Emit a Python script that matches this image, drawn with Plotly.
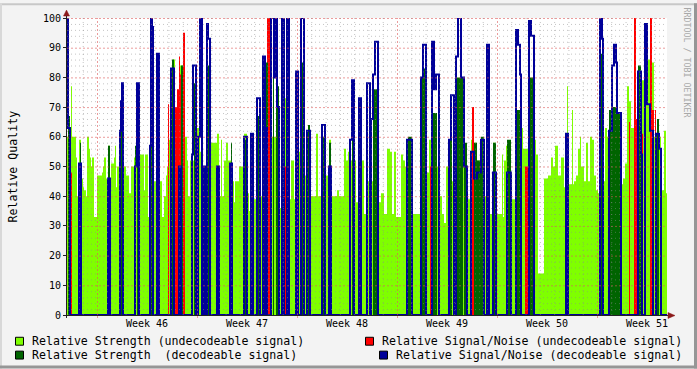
import plotly.graph_objects as go

# ---------------- data ----------------
N_SAMPLES = 600            # one sample = 0.07 day (~1h41m), 6 weeks shown
DAYS_PER_SAMPLE = 0.07

WEEK_LABELS = ["Week 46", "Week 47", "Week 48", "Week 49", "Week 50", "Week 51"]
WEEK_STARTS = [2.1, 9.1, 16.1, 23.1, 30.1, 37.1]   # day offsets of week boundaries

# Relative Strength (undecodeable) : contiguous runs (end_sample, value)
STRENGTH_UNDEC = [
    (4, 60), (5, 77), (9, 60), (10, 53), (12, 40), (14, 59), (16, 46), (17, 43), (19, 42), (20, 40),
    (22, 60), (23, 56), (24, 53), (25, 50), (27, 53), (30, 33), (35, 47), (36, 48), (37, 50), (39, 53),
    (41, 46), (43, 57), (44, 39), (47, 51), (48, 53), (49, 57), (50, 43), (59, 50), (62, 47), (64, 41),
    (67, 50), (72, 53), (77, 54), (78, 42), (81, 54), (83, 33), (87, 51), (90, 45), (93, 50), (95, 45),
    (97, 33), (99, 40), (100, 47),
    (101, 50), (104, 59), (106, 60), (108, 86), (112, 62), (116, 84), (118, 62), (120, 60), (121, 52),
    (123, 40), (125, 52), (126, 40), (130, 52), (133, 63), (135, 55), (139, 50), (141, 40), (144, 50),
    (150, 58), (152, 61), (154, 40), (155, 59), (157, 40), (159, 52), (161, 58), (164, 52), (167, 45),
    (168, 38), (172, 45), (177, 50), (180, 61), (182, 41), (184, 35), (186, 50), (190, 39), (194, 50),
    (197, 40), (199, 59),
    (212, 60), (215, 36), (217, 45), (220, 73), (222, 34), (224, 39), (227, 52), (229, 39), (230, 55),
    (234, 55), (237, 60), (239, 47), (240, 42), (249, 40), (251, 61), (255, 40), (259, 50), (262, 47),
    (264, 59), (270, 40), (272, 42), (277, 40), (279, 56), (281, 52), (283, 55), (289, 52), (294, 38),
    (297, 52), (299, 34),
    (300, 37), (303, 45), (305, 40), (311, 45), (314, 38), (317, 41), (320, 34), (323, 56), (325, 55),
    (327, 34), (329, 55), (334, 33), (336, 54), (338, 52), (340, 50), (345, 40), (354, 34), (360, 45),
    (362, 48), (364, 59), (365, 48), (372, 50), (375, 40), (377, 34), (379, 31), (382, 50), (389, 45),
    (397, 50), (399, 52),
    (400, 52), (404, 39), (407, 59), (410, 58), (414, 52), (417, 35), (422, 40), (426, 34), (429, 58),
    (435, 34), (436, 54), (437, 33), (439, 52), (440, 57), (444, 45), (449, 39), (454, 60), (456, 63),
    (462, 56), (467, 60), (469, 59), (471, 54), (477, 14), (481, 46), (484, 47), (486, 53), (488, 50),
    (491, 57), (494, 47), (497, 53), (499, 43),
    (500, 46), (501, 77), (505, 44), (506, 69), (507, 44), (509, 45), (511, 47), (513, 56), (514, 60),
    (517, 50), (519, 45), (521, 58), (523, 45), (525, 60), (527, 59), (529, 47), (531, 42), (533, 41),
    (536, 45), (538, 45), (540, 63), (542, 60), (554, 55), (556, 44), (558, 46), (560, 51), (562, 77),
    (564, 72), (569, 63), (572, 50), (575, 64), (580, 79), (584, 86), (587, 85), (594, 60), (597, 42),
    (599, 62), (600, 41),
]

# Relative Signal/Noise (undecodeable) : runs (start, end, value), zero elsewhere
SN_UNDEC = [
    (4, 5, 48), (101, 102, 71), (107, 110, 70), (110, 112, 76), (112, 113, 87), (113, 114, 81),
    (116, 118, 95), (134, 136, 67), (197, 199, 48), (200, 204, 100), (218, 220, 50), (363, 364, 50),
    (405, 407, 70), (458, 461, 50), (562, 563, 65), (567, 569, 100), (569, 570, 66), (575, 576, 61),
    (583, 585, 100), (585, 587, 69), (588, 589, 69),
]

# Relative Strength (decodeable) : runs (start, end, value)
STRENGTH_DEC = [
    (1, 3, 67), (13, 14, 58), (41, 43, 57), (54, 56, 71), (68, 69, 57), (70, 72, 65), (84, 87, 66),
    (90, 92, 71), (105, 107, 86), (114, 116, 84), (127, 129, 78), (134, 136, 61), (141, 143, 84),
    (164, 165, 58), (177, 180, 59), (191, 193, 67), (199, 201, 85), (206, 207, 85), (209, 212, 77),
    (230, 231, 71), (234, 237, 85), (241, 243, 64), (255, 258, 60), (262, 264, 58), (285, 287, 60),
    (306, 310, 76), (310, 311, 60), (341, 345, 60), (355, 360, 83), (366, 370, 68), (383, 385, 64),
    (390, 396, 80), (397, 400, 58), (407, 410, 58), (410, 414, 52), (414, 417, 60), (426, 429, 58),
    (440, 444, 59), (450, 454, 69), (462, 467, 80), (533, 536, 88), (542, 545, 69), (545, 550, 70),
    (550, 554, 68), (571, 574, 84), (590, 592, 66),
]

# Relative Signal/Noise (decodeable) : runs (start, end, value)
SN_DEC = [
    (0, 1, 100), (1, 3, 63), (12, 14, 51), (41, 43, 46), (53, 54, 62), (54, 55, 72), (55, 56, 78),
    (68, 70, 50), (70, 72, 78), (83, 84, 57), (84, 85, 100), (85, 86, 97), (90, 92, 88),
    (104, 107, 83), (112, 114, 50), (125, 126, 54), (126, 129, 84), (131, 133, 60), (133, 135, 100),
    (136, 138, 50), (140, 141, 98), (141, 143, 93), (150, 152, 50), (163, 165, 51), (177, 180, 60),
    (184, 186, 61), (190, 193, 73), (196, 198, 87), (199, 200, 63),
    (204, 207, 100), (207, 208, 80), (208, 210, 100), (210, 212, 70), (215, 217, 100), (220, 222, 100),
    (229, 231, 82), (234, 237, 100), (240, 243, 62), (255, 258, 64), (262, 264, 50), (283, 285, 59),
    (285, 287, 79), (292, 294, 73),
    (300, 303, 78), (304, 306, 66), (306, 308, 81), (308, 311, 92), (340, 345, 59), (354, 356, 80),
    (356, 359, 91), (365, 367, 92), (367, 369, 76), (369, 372, 81), (382, 384, 59), (384, 387, 74),
    (389, 391, 87), (391, 394, 100), (394, 397, 80), (397, 400, 50),
    (404, 407, 55), (407, 410, 46), (410, 414, 48), (414, 417, 59), (420, 422, 91), (426, 429, 48),
    (440, 444, 48), (449, 451, 96), (451, 453, 91), (453, 454, 81), (462, 464, 99), (464, 467, 94),
    (499, 501, 61), (533, 535, 100), (535, 536, 93), (542, 545, 62), (545, 547, 84), (547, 549, 91),
    (549, 550, 85), (550, 554, 68), (571, 574, 82), (574, 575, 54), (578, 580, 98), (580, 583, 71),
    (583, 586, 62), (589, 592, 61), (592, 594, 56),
]

LEGEND_NAMES = [
    "Relative Strength (undecodeable signal)",
    "Relative Strength\u00a0 (decodeable signal)",
    "Relative Signal/Noise (undecodeable signal)",
    "Relative Signal/Noise (decodeable signal)",
]

# ---------------- helpers ----------------
def expand_contiguous(runs):
    arr, start = [0.0] * N_SAMPLES, 0
    for end, v in runs:
        for i in range(start, min(end, N_SAMPLES)):
            arr[i] = v
        start = end
    return arr

def expand_runs(runs):
    arr = [0.0] * N_SAMPLES
    for s, e, v in runs:
        for i in range(s, min(e, N_SAMPLES)):
            arr[i] = v
    return arr

x = [i * DAYS_PER_SAMPLE for i in range(N_SAMPLES + 1)]

def step(arr):
    return arr + [arr[-1]]

LG, RED, DG, BLUE = "#7FFF00", "#FF0000", "#006400", "#000099"

W, H = 697, 369
L, R, T, B = 67, 667, 15, 315
X_HALF_PX = 0.5 * 42 / (R - L)      # half a pixel in day units (crisp 1px lines)
Y_HALF_PX = 0.5 * 100 / (B - T)     # half a pixel in value units

fig = go.Figure()
for arr, col in [(expand_contiguous(STRENGTH_UNDEC), LG),
                 (expand_runs(SN_UNDEC), RED),
                 (expand_runs(STRENGTH_DEC), DG)]:
    fig.add_trace(go.Scatter(x=x, y=step(arr), mode="lines", line=dict(width=0, shape="hv"),
                             fill="tozeroy", fillcolor=col, hoverinfo="skip", showlegend=False))
fig.add_trace(go.Scatter(x=x, y=step(expand_runs(SN_DEC)), mode="lines",
                         line=dict(width=2, shape="hv", color=BLUE),
                         hoverinfo="skip", showlegend=False))

# ---------------- layout ----------------
def px(v):
    return (v - L) / (R - L)

def py(v):
    return (B - v) / (B - T)

MONO = "DejaVu Sans Mono"
MINOR = "rgba(140,140,140,0.5)"
MAJOR = "rgba(222,90,90,0.6)"
shapes = []
# grid drawn above data (rrdtool style)
for yv in range(2, 101, 2):
    major = yv % 10 == 0
    shapes.append(dict(type="line", xref="x", yref="y", x0=0, x1=42,
                       y0=yv - Y_HALF_PX, y1=yv - Y_HALF_PX, layer="above",
                       line=dict(color=MAJOR if major else MINOR, width=1,
                                 dash="2px,2px" if major else "1px,3px")))
for d in range(42):
    xv = 0.1 + d
    major = any(abs(xv - w) < 1e-6 for w in WEEK_STARTS)
    shapes.append(dict(type="line", xref="x", yref="y", x0=xv + X_HALF_PX, x1=xv + X_HALF_PX,
                       y0=0, y1=100, layer="above",
                       line=dict(color=MAJOR if major else MINOR, width=1,
                                 dash="2px,2px" if major else "1px,3px")))
    if major:
        shapes.append(dict(type="line", xref="x", yref="paper", x0=xv + X_HALF_PX, x1=xv + X_HALF_PX,
                           y0=py(315), y1=py(318), line=dict(color=MAJOR, width=1)))
# axes
AX = "#202020"
shapes.append(dict(type="line", xref="paper", yref="paper", x0=px(63), x1=px(669), y0=py(315.5), y1=py(315.5),
                   line=dict(color=AX, width=1), layer="above"))
shapes.append(dict(type="line", xref="paper", yref="paper", x0=px(66.5), x1=px(66.5), y0=py(318), y1=py(11),
                   line=dict(color=AX, width=1), layer="above"))
ARROW = "#8b1a1a"
shapes.append(dict(type="path", xref="paper", yref="paper",
                   path=f"M {px(668)},{py(312.5)} L {px(675)},{py(315.5)} L {px(668)},{py(318.5)} Z",
                   fillcolor=ARROW, line=dict(color=ARROW, width=0.5), layer="above"))
shapes.append(dict(type="path", xref="paper", yref="paper",
                   path=f"M {px(63.5)},{py(13)} L {px(66.5)},{py(7)} L {px(69.5)},{py(13)} Z",
                   fillcolor=ARROW, line=dict(color=ARROW, width=0.5), layer="above"))
# frame
shapes.append(dict(type="line", xref="paper", yref="paper", x0=px(0), x1=px(697), y0=py(1), y1=py(1),
                   line=dict(color="#c8c8c8", width=2)))
shapes.append(dict(type="line", xref="paper", yref="paper", x0=px(1), x1=px(1), y0=py(0), y1=py(369),
                   line=dict(color="#d8d8d8", width=2)))
shapes.append(dict(type="line", xref="paper", yref="paper", x0=px(0), x1=px(697), y0=py(367.5), y1=py(367.5),
                   line=dict(color="#969696", width=3)))
shapes.append(dict(type="line", xref="paper", yref="paper", x0=px(695.5), x1=px(695.5), y0=py(0), y1=py(369),
                   line=dict(color="#969696", width=3)))

annotations = []
for lab, ws in zip(WEEK_LABELS, WEEK_STARTS):
    annotations.append(dict(x=ws + 3.5, y=py(324), xref="x", yref="paper", text=lab, showarrow=False,
                            xanchor="center", yanchor="middle", font=dict(family=MONO, size=10, color="#000")))
annotations.append(dict(x=px(12), y=py(165), xref="paper", yref="paper", text="Relative Quality",
                        textangle=-90, showarrow=False, xanchor="center", yanchor="middle",
                        font=dict(family=MONO, size=11.6, color="#000")))
annotations.append(dict(x=px(687), y=py(60), xref="paper", yref="paper", text="RRDTOOL / TOBI OETIKER",
                        textangle=90, showarrow=False, xanchor="center", yanchor="middle",
                        font=dict(family=MONO, size=8.3, color="#a8a8a8")))

legend_pos = [(15, 341, 30), (15, 355, 30), (365, 341, 380), (379, 355, 394)]
for (bx, by, tx), name, col in zip(legend_pos, LEGEND_NAMES, [LG, DG, RED, BLUE]):
    shapes.append(dict(type="rect", xref="paper", yref="paper", x0=px(bx + 0.5), x1=px(bx + 8.5),
                       y0=py(by - 3.5), y1=py(by + 4.5), fillcolor=col, line=dict(color="#000", width=1)))
    annotations.append(dict(x=px(tx), y=py(by), xref="paper", yref="paper", text=name, showarrow=False,
                            xanchor="left", yanchor="middle", font=dict(family=MONO, size=11.6, color="#000")))

fig.update_layout(
    width=W, height=H, margin=dict(l=L, r=W - R, t=T, b=H - B),
    paper_bgcolor="#f3f3f3", plot_bgcolor="#ffffff",
    showlegend=False, shapes=shapes, annotations=annotations,
    xaxis=dict(range=[0, 42], showgrid=False, zeroline=False, showline=False, showticklabels=False,
               ticks="", fixedrange=True),
    yaxis=dict(range=[0, 100], tickvals=list(range(0, 101, 10)), showgrid=False, zeroline=False,
               showline=False, ticks="outside", ticklen=3, tickcolor=AX,
               tickfont=dict(family=MONO, size=10, color="#000"), fixedrange=True),
)
fig.write_html("out.html", config={"displayModeBar": False})
